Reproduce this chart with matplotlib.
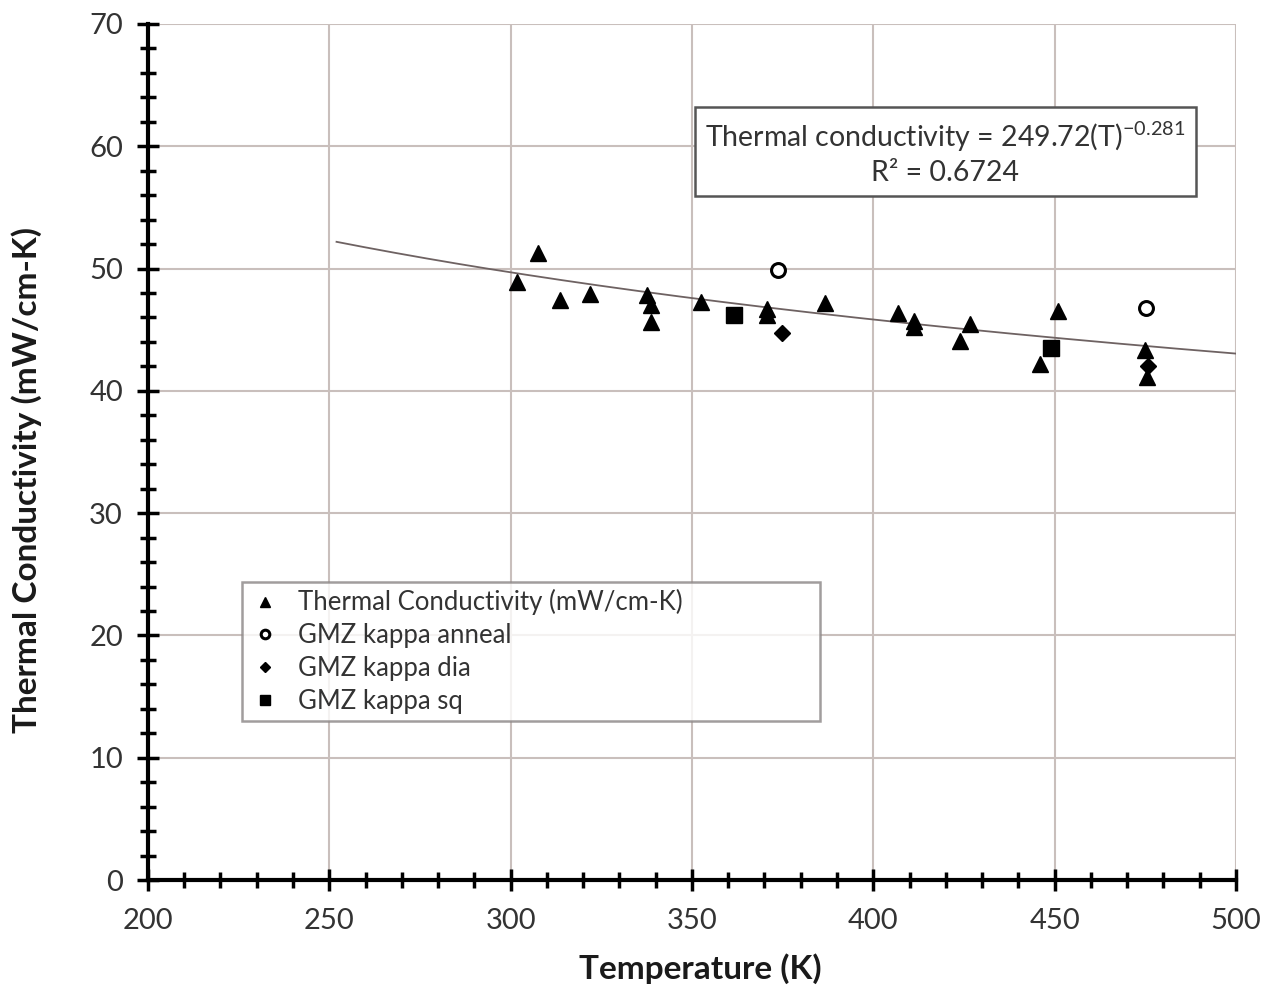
import numpy as np
import matplotlib.pyplot as plt
from matplotlib.ticker import MultipleLocator

plt.rcParams['font.family'] = ['Lato', 'DejaVu Sans']
plt.rcParams['mathtext.fontset'] = 'custom'
plt.rcParams['mathtext.rm'] = 'Lato'

# ============================================================
# Data
# ============================================================
tri_T = [301.7, 307.5, 313.5, 322.0, 337.5, 338.6, 338.6, 352.4, 370.6, 370.6,
         386.6, 406.7, 411.1, 411.1, 423.8, 426.8, 445.9, 450.9, 474.9, 475.6]
tri_k = [48.9, 51.3, 47.4, 47.9, 47.8, 47.0, 45.6, 47.3, 46.2, 46.7,
         47.2, 46.4, 45.2, 45.7, 44.1, 45.5, 42.2, 46.5, 43.3, 41.1]

anneal_T = [373.8, 475.1]
anneal_k = [49.9, 46.8]

dia_T = [374.8, 475.8]
dia_k = [44.7, 42.0]

sq_T = [361.6, 448.9]
sq_k = [46.2, 43.5]

# power-law trend line as drawn in the picture
trend_a = 246.8
trend_b = -0.281
trend_range = (252, 500)

# ============================================================
# Figure
# ============================================================
fig = plt.figure(figsize=(12.71, 9.9), dpi=100)
ax = fig.add_axes([0.1164, 0.1111, 0.8560, 0.8647])

ax.set_xlim(200, 500)
ax.set_ylim(0, 70)

ax.xaxis.set_major_locator(MultipleLocator(50))
ax.xaxis.set_minor_locator(MultipleLocator(10))
ax.yaxis.set_major_locator(MultipleLocator(10))
ax.yaxis.set_minor_locator(MultipleLocator(2))

ax.grid(True, which='major', color='#c9bfbc', linewidth=1.5, zorder=0)
ax.set_axisbelow(True)

for s in ['top', 'right']:
    ax.spines[s].set_visible(False)
for s in ['left', 'bottom']:
    ax.spines[s].set_linewidth(3)
    ax.spines[s].set_color('black')

ax.tick_params(which='major', direction='inout', length=16, width=2.5,
               labelsize=21, labelcolor='#333333')
ax.tick_params(axis='x', which='major', pad=12)
ax.tick_params(axis='y', which='major', pad=10)
ax.tick_params(which='minor', direction='inout', length=11, width=2.5)

# trend line
T = np.linspace(trend_range[0], trend_range[1], 200)
ax.plot(T, trend_a * T ** trend_b, color='#6e6262', linewidth=1.3, zorder=2)

ax.plot(tri_T, tri_k, linestyle='none', marker='^', markersize=11,
        color='black', label='Thermal Conductivity (mW/cm-K)', zorder=3)
ax.plot(anneal_T, anneal_k, linestyle='none', marker='o', markersize=10,
        markerfacecolor='white', markeredgecolor='black', markeredgewidth=2.2,
        label='GMZ kappa anneal', zorder=3)
ax.plot(dia_T, dia_k, linestyle='none', marker='D', markersize=8,
        color='black', label='GMZ kappa dia', zorder=3)
ax.plot(sq_T, sq_k, linestyle='none', marker='s', markersize=11,
        color='black', label='GMZ kappa sq', zorder=3)

ax.set_xlabel('Temperature (K)', fontsize=24, fontweight='bold', color='#1a1a1a')
ax.set_ylabel('Thermal Conductivity (mW/cm-K)', fontsize=24, fontweight='bold',
              color='#1a1a1a')
ax.xaxis.set_label_coords(0.508, -0.086)
ax.yaxis.set_label_coords(-0.097, 0.467)

leg = ax.legend(loc='upper left', bbox_to_anchor=(0.0864, 0.1925, 0.531, 0.156),
                mode='expand', borderaxespad=0, fontsize=18.5, markerscale=0.62,
                frameon=True, fancybox=False, edgecolor='#8a8585',
                handlelength=1.2, handletextpad=0.7, labelspacing=0.3,
                borderpad=0.3)
leg.get_frame().set_linewidth(1.8)
for t in leg.get_texts():
    t.set_color('#333333')

# equation box
ax.text(0.733, 0.850,
        'Thermal conductivity = 249.72(T)$^{\\mathregular{-0.281}}$\nR² = 0.6724',
        transform=ax.transAxes, ha='center', va='center', fontsize=20.5,
        color='#333333', linespacing=1.3,
        bbox=dict(boxstyle='square,pad=0.35', facecolor='white',
                  edgecolor='#555555', linewidth=1.8))

fig.savefig('out.png', dpi=100, facecolor='white')
